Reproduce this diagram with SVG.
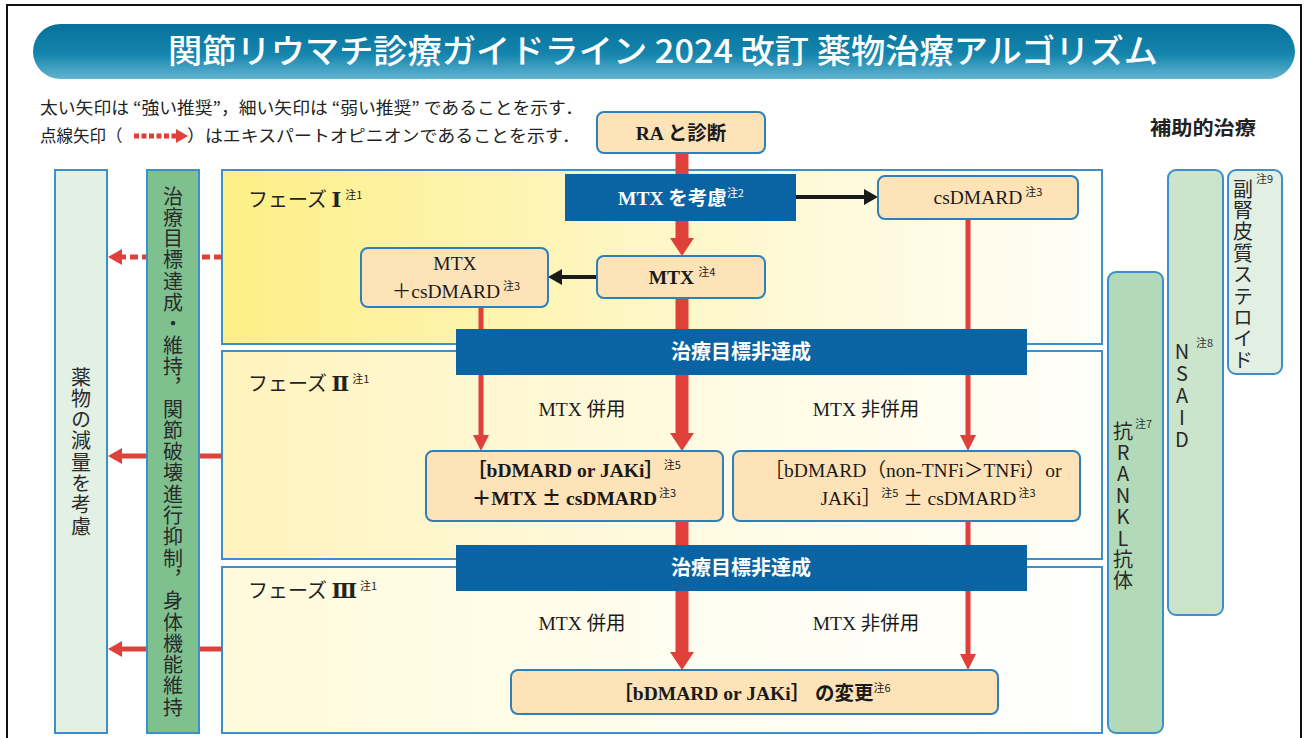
<svg xmlns="http://www.w3.org/2000/svg" width="1312" height="738" viewBox="0 0 1312 738">
<defs>
<linearGradient id="gTitle" x1="0" y1="0" x2="0" y2="1">
<stop offset="0" stop-color="#06729c"/>
<stop offset="0.55" stop-color="#1585ad"/>
<stop offset="1" stop-color="#62b5d0"/>
</linearGradient>
<linearGradient id="gP1" x1="0" y1="0" x2="1" y2="0">
<stop offset="0" stop-color="#fdef86"/>
<stop offset="0.45" stop-color="#fef6c2"/>
<stop offset="1" stop-color="#fffef9"/>
</linearGradient>
<linearGradient id="gP2" x1="0" y1="0" x2="1" y2="0">
<stop offset="0" stop-color="#fff3bd"/>
<stop offset="0.5" stop-color="#fffadf"/>
<stop offset="1" stop-color="#fffffa"/>
</linearGradient>
<linearGradient id="gP3" x1="0" y1="0" x2="1" y2="0">
<stop offset="0" stop-color="#fffadb"/>
<stop offset="0.5" stop-color="#fffdef"/>
<stop offset="1" stop-color="#ffffff"/>
</linearGradient>
<marker id="mThick" viewBox="0 -12 18 24" refX="0" refY="0" markerWidth="18" markerHeight="24" markerUnits="userSpaceOnUse" orient="auto"><path d="M0,-12L18,0L0,12Z" fill="#e0403a"/></marker>
<marker id="mThin" viewBox="0 -8 16 16" refX="0" refY="0" markerWidth="16" markerHeight="16" markerUnits="userSpaceOnUse" orient="auto"><path d="M0,-8L16,0L0,8Z" fill="#e0403a"/></marker>
<marker id="mSide" viewBox="0 -8 14 16" refX="0" refY="0" markerWidth="14" markerHeight="16" markerUnits="userSpaceOnUse" orient="auto"><path d="M0,-8L14,0L0,8Z" fill="#e0403a"/></marker>
<marker id="mBlack" viewBox="0 -8 14 16" refX="0" refY="0" markerWidth="14" markerHeight="16" markerUnits="userSpaceOnUse" orient="auto"><path d="M0,-8L14,0L0,8Z" fill="#1a1a1a"/></marker>
</defs>
<style>
.panel{stroke:#3c8fca;stroke-width:2}
.box{fill:#fde3b7;stroke:#2f80b8;stroke-width:2}
.bar{fill:#0a64a3}
.colA{fill:#e3f0e4;stroke:#3c8fca;stroke-width:2}
.colB{fill:#7fc08f;stroke:#3c8fca;stroke-width:2}
.colR{fill:#b2dab8;stroke:#3c8fca;stroke-width:2}
.colN{fill:#cbe5cd;stroke:#3c8fca;stroke-width:2}
.colS{fill:#e2f0e3;stroke:#3c8fca;stroke-width:2}
.rThick{stroke:#e0403a;stroke-width:13;fill:none}
.rThin{stroke:#e0403a;stroke-width:5;fill:none}
.rDash{stroke:#e0403a;stroke-width:5;fill:none;stroke-dasharray:8 4}
.blk{stroke:#1a1a1a;stroke-width:4;fill:none}
.t{font-family:'Liberation Serif','Noto Sans CJK JP',serif;font-size:19.5px;fill:#1a1a1a}
.b{font-weight:bold}
.w{fill:#ffffff}
.pm{font-family:'Noto Sans CJK JP',sans-serif}
.g{font-family:'Noto Sans CJK JP',sans-serif;fill:#222}
.num{font-family:'Liberation Serif','DejaVu Serif','Noto Sans CJK JP',serif;font-weight:bold;font-size:21px}
.sup{font-family:'Noto Sans CJK JP',sans-serif;font-size:11px;font-weight:normal}
.vt{font-family:'Noto Sans CJK JP',sans-serif;font-size:20px;fill:#2a2a2a;writing-mode:vertical-rl;letter-spacing:1.3px}
.vu{font-family:'Noto Sans CJK JP',sans-serif;font-size:20px;fill:#2a2a2a;writing-mode:vertical-rl;text-orientation:upright;letter-spacing:1.4px}
.bart{font-family:'Noto Sans CJK JP',sans-serif;font-size:20px;font-weight:bold;fill:#ffffff}
</style>

<rect x="7" y="5" width="1294" height="740" fill="#ffffff" stroke="#111" stroke-width="2"/>

<g id="title">
<rect x="33" y="24" width="1262" height="55" rx="27.5" fill="url(#gTitle)"/>
<text x="663" y="63" text-anchor="middle" textLength="990" lengthAdjust="spacingAndGlyphs" font-family="'Noto Sans CJK JP',sans-serif" font-size="33" font-weight="500" fill="#ffffff">関節リウマチ診療ガイドライン 2024 改訂 薬物治療アルゴリズム</text>
</g>

<g id="legend">
<text x="40" y="114" class="g" font-size="16.5" textLength="543" lengthAdjust="spacingAndGlyphs">太い矢印は “強い推奨”，細い矢印は “弱い推奨” であることを示す．</text>
<text x="40" y="142" class="g" font-size="16.5">点線矢印（</text>
<path d="M134,136 H176" stroke="#e0403a" stroke-width="5" stroke-dasharray="5 2.5"/>
<path d="M176,129 L188,136 L176,143 Z" fill="#e0403a"/>
<text x="187" y="142" class="g" font-size="16.5" textLength="393" lengthAdjust="spacingAndGlyphs">）はエキスパートオピニオンであることを示す．</text>
</g>

<g id="hojo">
<text x="1150" y="135" class="g" font-size="19" font-weight="bold" textLength="106" lengthAdjust="spacingAndGlyphs">補助的治療</text>
</g>

<g id="phase1">
<rect x="222" y="170" width="880" height="174" class="panel" fill="url(#gP1)"/>
<text x="248" y="207" class="g" font-size="20">フェーズ <tspan class="num">Ⅰ</tspan><tspan class="sup" dx="4" dy="-8">注1</tspan></text>
</g>
<g id="phase2">
<rect x="222" y="351" width="880" height="208" class="panel" fill="url(#gP2)"/>
<text x="248" y="391" class="g" font-size="20">フェーズ <tspan class="num">Ⅱ</tspan><tspan class="sup" dx="3" dy="-8">注1</tspan></text>
</g>
<g id="phase3">
<rect x="222" y="567" width="880" height="166" class="panel" fill="url(#gP3)"/>
<text x="248" y="598" class="g" font-size="20">フェーズ <tspan class="num">Ⅲ</tspan><tspan class="sup" dx="3" dy="-8">注1</tspan></text>
</g>

<g id="connectors">
<path d="M682,153 V238" class="rThick" marker-end="url(#mThick)"/>
<path d="M682,298 V433" class="rThick" marker-end="url(#mThick)"/>
<path d="M481,307 V435" class="rThin" marker-end="url(#mThin)"/>
<path d="M968,219 V435" class="rThin" marker-end="url(#mThin)"/>
<path d="M682,521 V652" class="rThick" marker-end="url(#mThick)"/>
<path d="M968,521 V654" class="rThin" marker-end="url(#mThin)"/>
<path d="M796,197 H864" class="blk" marker-end="url(#mBlack)"/>
<path d="M596,277 H562" class="blk" marker-end="url(#mBlack)"/>
<path d="M222,257 H122" class="rDash" marker-end="url(#mSide)"/>
<path d="M222,456 H122" class="rThin" marker-end="url(#mSide)"/>
<path d="M222,649 H122" class="rThin" marker-end="url(#mSide)"/>
</g>

<g id="labels">
<text x="582" y="416" class="t" text-anchor="middle">MTX 併用</text>
<text x="866" y="416" class="t" text-anchor="middle">MTX 非併用</text>
<text x="582" y="630" class="t" text-anchor="middle">MTX 併用</text>
<text x="866" y="630" class="t" text-anchor="middle">MTX 非併用</text>
</g>

<g id="ra">
<rect x="597" y="112" width="168" height="41" rx="7" class="box"/>
<text x="681" y="140" class="t b" text-anchor="middle">RA と診断</text>
</g>
<g id="mtx-consider">
<rect x="565" y="174" width="231" height="47" class="bar"/>
<text x="681" y="205" class="t b w" text-anchor="middle">MTX を考慮<tspan class="sup" dy="-8">注2</tspan></text>
</g>
<g id="csdmard">
<rect x="878" y="176" width="200" height="43" rx="7" class="box"/>
<text x="988" y="204" class="t" text-anchor="middle">csDMARD<tspan class="sup" dx="3" dy="-8">注3</tspan></text>
</g>
<g id="mtx">
<rect x="597" y="256" width="168" height="42" rx="7" class="box"/>
<text x="682" y="284" class="t b" text-anchor="middle">MTX<tspan class="sup" dx="4" dy="-8">注4</tspan></text>
</g>
<g id="mtx-cs">
<rect x="361" y="248" width="187" height="59" rx="7" class="box"/>
<text x="455" y="270" class="t" text-anchor="middle">MTX</text>
<text x="456" y="298" class="t" text-anchor="middle">＋csDMARD<tspan class="sup" dx="3" dy="-8">注3</tspan></text>
</g>
<g id="fail1">
<rect x="456" y="329" width="571" height="46" class="bar"/>
<text x="741" y="359" class="bart" text-anchor="middle">治療目標非達成</text>
</g>
<g id="p2-left">
<rect x="426" y="451" width="297" height="70" rx="7" class="box"/>
<text x="574" y="477" class="t b" text-anchor="middle">［bDMARD or JAKi］<tspan class="sup" dy="-8">注5</tspan></text>
<text x="574" y="505" class="t b" text-anchor="middle">＋MTX <tspan class="pm">±</tspan> csDMARD<tspan class="sup" dx="2" dy="-8">注3</tspan></text>
</g>
<g id="p2-right">
<rect x="733" y="451" width="347" height="70" rx="7" class="box"/>
<text x="913" y="477" class="t" text-anchor="middle">［bDMARD（non-TNFi＞TNFi）or</text>
<text x="928" y="505" class="t" text-anchor="middle">JAKi］<tspan class="sup" dy="-8">注5</tspan><tspan dy="8"> </tspan><tspan class="pm">±</tspan> csDMARD<tspan class="sup" dx="2" dy="-8">注3</tspan></text>
</g>
<g id="fail2">
<rect x="456" y="545" width="571" height="46" class="bar"/>
<text x="741" y="575" class="bart" text-anchor="middle">治療目標非達成</text>
</g>
<g id="final">
<rect x="511" y="670" width="487" height="44" rx="7" class="box"/>
<text x="752" y="700" class="t b" text-anchor="middle">［bDMARD or JAKi］ の変更<tspan class="sup" dy="-8">注6</tspan></text>
</g>

<g id="col-reduce">
<rect x="55" y="170" width="52" height="563" class="colA"/>
<text x="81" y="367" class="vt">薬物の減量を考慮</text>
</g>
<g id="col-goal">
<rect x="147" y="170" width="52" height="563" class="colB"/>
<text x="173" y="186" class="vt">治療目標達成・維持，関節破壊進行抑制，身体機能維持</text>
</g>

<g id="col-rankl">
<rect x="1108" y="272" width="55" height="461" rx="8" class="colR"/>
<text x="1123" y="421" class="vu">抗RANKL抗体</text>
<text x="1135" y="428" class="sup" fill="#333">注7</text>
</g>
<g id="col-nsaid">
<rect x="1168" y="170" width="55" height="445" rx="8" class="colN"/>
<text x="1182" y="341" class="vu" style="letter-spacing:2px">NSAID</text>
<text x="1196" y="347" class="sup" fill="#333">注8</text>
</g>
<g id="col-steroid">
<rect x="1228" y="170" width="54" height="204" rx="8" class="colS"/>
<text x="1243" y="179" class="vt" style="letter-spacing:1.4px">副腎皮質ステロイド</text>
<text x="1256" y="183" class="sup" fill="#333">注9</text>
</g>
</svg>
